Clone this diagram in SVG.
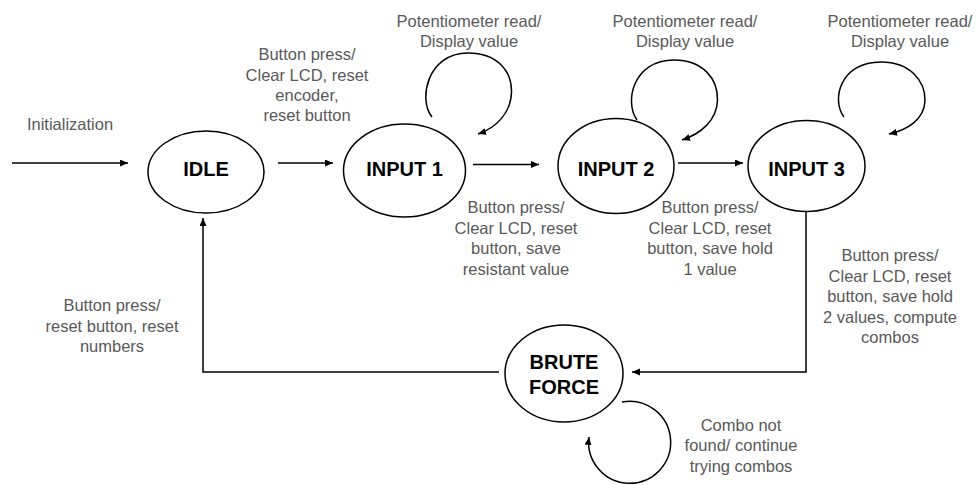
<svg xmlns="http://www.w3.org/2000/svg" width="979" height="485" viewBox="0 0 979 485">
<style>
.node{fill:#fff;stroke:#000;stroke-width:1.5}
.nl{font-family:"Liberation Sans",Arial,sans-serif;font-size:20px;font-weight:bold;fill:#000;text-anchor:middle}
.lbl{font-family:"Liberation Sans",Arial,sans-serif;font-size:16.5px;fill:#595959;text-anchor:middle}
.edge{fill:none;stroke:#000;stroke-width:1.5}
</style>
<defs>
<marker id="ah" markerUnits="userSpaceOnUse" markerWidth="9" markerHeight="8" refX="8" refY="3.5" orient="auto">
<path d="M0,0 L8,3.5 L0,7 z" fill="#000"/>
</marker>
</defs>
<rect width="979" height="485" fill="#fff"/>
<g id="connectors">
<line class="edge" x1="12" y1="163" x2="128" y2="163" marker-end="url(#ah)"/>
<line class="edge" x1="278" y1="163" x2="333" y2="163" marker-end="url(#ah)"/>
<line class="edge" x1="473" y1="164.5" x2="539" y2="164.5" marker-end="url(#ah)"/>
<line class="edge" x1="678" y1="163" x2="743" y2="163" marker-end="url(#ah)"/>
<polyline class="edge" points="806,212 806,372 632,372" marker-end="url(#ah)"/>
<polyline class="edge" points="499,372 203,372 203,218" marker-end="url(#ah)"/>
<path class="edge" d="M 432 117 C 418 100, 427 53, 468 53 C 498 53, 512 72, 511.5 92 C 511 113, 496 128, 478 134" marker-end="url(#ah)"/>
<path class="edge" d="M 637 120 C 624 102, 633 60, 674 60 C 703 60, 718 79, 717.5 100 C 717 121, 700 134, 682 140" marker-end="url(#ah)"/>
<path class="edge" d="M 844 117 C 831 100, 840 62, 881 62 C 910 62, 925.5 81, 925 101 C 924 120, 907 130, 889 134" marker-end="url(#ah)"/>
<path class="edge" d="M 622 402 A 41 41 0 1 1 589 437" marker-end="url(#ah)"/>
</g>
<g id="labels">
<text class="lbl" x="70" y="130">Initialization</text>
<text class="lbl" x="307"><tspan x="307" y="60">Button press/</tspan><tspan x="307" y="80.5">Clear LCD, reset</tspan><tspan x="307" y="101">encoder,</tspan><tspan x="307" y="121">reset button</tspan></text>
<text class="lbl"><tspan x="469" y="27">Potentiometer read/</tspan><tspan x="469" y="47">Display value</tspan></text>
<text class="lbl"><tspan x="685" y="27">Potentiometer read/</tspan><tspan x="685" y="47">Display value</tspan></text>
<text class="lbl"><tspan x="900" y="27">Potentiometer read/</tspan><tspan x="900" y="47">Display value</tspan></text>
<text class="lbl"><tspan x="516" y="213">Button press/</tspan><tspan x="516" y="233.5">Clear LCD, reset</tspan><tspan x="516" y="254">button, save</tspan><tspan x="516" y="274.5">resistant value</tspan></text>
<text class="lbl"><tspan x="710" y="213">Button press/</tspan><tspan x="710" y="233.5">Clear LCD, reset</tspan><tspan x="710" y="254">button, save hold</tspan><tspan x="710" y="274.5">1 value</tspan></text>
<text class="lbl"><tspan x="890" y="261">Button press/</tspan><tspan x="890" y="281.5">Clear LCD, reset</tspan><tspan x="890" y="302">button, save hold</tspan><tspan x="890" y="322.5">2 values, compute</tspan><tspan x="890" y="343">combos</tspan></text>
<text class="lbl"><tspan x="112" y="311">Button press/</tspan><tspan x="112" y="331.5">reset button, reset</tspan><tspan x="112" y="352">numbers</tspan></text>
<text class="lbl"><tspan x="741" y="430.5">Combo not</tspan><tspan x="741" y="451">found/ continue</tspan><tspan x="741" y="471.5">trying combos</tspan></text>
</g>
<g id="idle">
<ellipse class="node" cx="206" cy="172" rx="58" ry="41"/>
<text class="nl" x="206" y="176">IDLE</text>
</g>
<g id="input1">
<ellipse class="node" cx="404.5" cy="170.5" rx="61" ry="46.5"/>
<text class="nl" x="404.5" y="176">INPUT 1</text>
</g>
<g id="input2">
<ellipse class="node" cx="616" cy="166" rx="58" ry="47.5"/>
<text class="nl" x="616" y="176">INPUT 2</text>
</g>
<g id="input3">
<ellipse class="node" cx="806.5" cy="166" rx="58.5" ry="45.5"/>
<text class="nl" x="806.5" y="176">INPUT 3</text>
</g>
<g id="bruteforce">
<ellipse class="node" cx="564" cy="373.5" rx="59" ry="48.5"/>
<text class="nl"><tspan x="564" y="368.5">BRUTE</tspan><tspan x="564" y="393.5">FORCE</tspan></text>
</g>
</svg>
